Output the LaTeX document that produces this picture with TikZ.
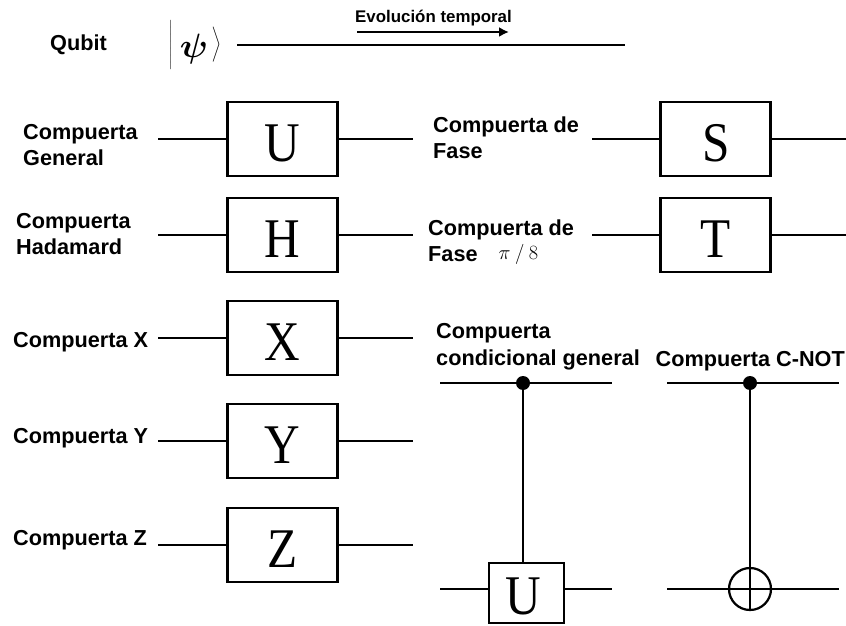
\documentclass[tikz,border=0pt]{standalone}
\usepackage{fontspec}
\usetikzlibrary{arrows.meta}
\setmainfont{Liberation Serif}
\setsansfont{Liberation Sans}
\newcommand{\gateletter}[1]{\scalebox{.88}[1]{#1}}
\tikzset{
	gatebox/.style={draw, line width=2.2pt, fill=white, minimum width=3.3cm, minimum height=2.22cm, inner sep=0pt, text height=38.4pt, text depth=0pt, font=\fontsize{47.8}{48}\selectfont},
	smallbox/.style={draw, line width=2.2pt, fill=white, minimum width=2.25cm, minimum height=1.8cm, inner sep=0pt, text height=36pt, text depth=0pt, font=\fontsize{47.8}{48}\selectfont},
	wire/.style={line width=2.2pt},
	gatelabel/.style={anchor=base west, inner sep=0pt, align=left, font=\sffamily\bfseries\fontsize{18.5}{22.2}\selectfont},
	ctrldot/.style={circle, fill=black, minimum size=0.42cm, inner sep=0pt}
}
\begin{document}
\begin{tikzpicture}[x=0.03cm, y=-0.03cm]
		\useasboundingbox (0,0) rectangle (846,626);
		%
		\node (qubit)[gatelabel] at (50,51) {Qubit};
		\node (ket)[inner sep=0pt, font=\fontsize{14.4}{15}\selectfont] at (195,45) {$\left|\rule[-16.9pt]{0pt}{41pt}\kern6pt\mbox{\raisebox{-7pt}{\scalebox{2.1}[2]{\boldmath$\psi$}}}\kern3pt\right\rangle$};
		\coordinate (lineIn) at (237,45);
		\coordinate (lineOut) at (625,45);
		\draw [line width=2.4pt](lineIn)--(lineOut);
		\node (evol)[anchor=base west, inner sep=0pt, font=\sffamily\bfseries\fontsize{14.4}{15}\selectfont] at (355,23) {Evolución temporal};
		\coordinate (evolIn) at (357,32);
		\coordinate (evolOut) at (509,32);
		\draw [-{Latex[length=0.3cm,width=0.3cm]}, line width=1.9pt](evolIn)--(evolOut);
		%
		\node (uBox)[gatebox] at (282.5,139) {\gateletter{U}};
		\node (uLabel)[gatelabel] at (23,166) {Compuerta\\General};
		\coordinate (uIn) at (158,139);
		\coordinate (uOut) at (413,139);
		\draw [wire](uIn)--(uBox.west);
		\draw [wire](uBox.east)--(uOut);
		%
		\node (hBox)[gatebox] at (282.5,235) {\gateletter{H}};
		\node (hLabel)[gatelabel] at (16,255) {Compuerta\\Hadamard};
		\coordinate (hIn) at (158,235);
		\coordinate (hOut) at (413,235);
		\draw [wire](hIn)--(hBox.west);
		\draw [wire](hBox.east)--(hOut);
		%
		\node (xBox)[gatebox] at (282.5,338) {\gateletter{X}};
		\node (xLabel)[gatelabel] at (13,347) {Compuerta X};
		\coordinate (xIn) at (158,338);
		\coordinate (xOut) at (413,338);
		\draw [wire](xIn)--(xBox.west);
		\draw [wire](xBox.east)--(xOut);
		%
		\node (yBox)[gatebox] at (282.5,441) {\gateletter{Y}};
		\node (yLabel)[gatelabel] at (13,443) {Compuerta Y};
		\coordinate (yIn) at (158,441);
		\coordinate (yOut) at (413,441);
		\draw [wire](yIn)--(yBox.west);
		\draw [wire](yBox.east)--(yOut);
		%
		\node (zBox)[gatebox] at (282.5,545) {\gateletter{Z}};
		\node (zLabel)[gatelabel] at (13,545) {Compuerta Z};
		\coordinate (zIn) at (158,545);
		\coordinate (zOut) at (413,545);
		\draw [wire](zIn)--(zBox.west);
		\draw [wire](zBox.east)--(zOut);
		%
		\node (sBox)[gatebox] at (715.7,139) {\gateletter{S}};
		\node (sLabel)[gatelabel] at (433,159) {Compuerta de\\Fase};
		\coordinate (sIn) at (592,139);
		\coordinate (sOut) at (846,139);
		\draw [wire](sIn)--(sBox.west);
		\draw [wire](sBox.east)--(sOut);
		%
		\node (tBox)[gatebox] at (715.7,235) {\gateletter{T}};
		\node (tLabel)[gatelabel] at (428,262) {Compuerta de\\Fase};
		\node (tAngle)[inner sep=0pt, font=\fontsize{18}{18}\selectfont] at (518.5,254) {$\pi\:/\:8$};
		\coordinate (tIn) at (592,235);
		\coordinate (tOut) at (846,235);
		\draw [wire](tIn)--(tBox.west);
		\draw [wire](tBox.east)--(tOut);
		%
		\node (condLabel)[gatelabel] at (436,365) {Compuerta\\condicional general};
		\node (condBox)[smallbox] at (526.5,593) {\kern-5pt\gateletter{U}};
		\node (condDot)[ctrldot] at (523,383) {};
		\coordinate (condTopIn) at (440,383);
		\coordinate (condTopOut) at (612,383);
		\coordinate (condIn) at (440,589);
		\coordinate (condOut) at (612,589);
		\draw [wire](condTopIn)--(condTopOut);
		\draw [wire](condIn)--(condIn-|condBox.west);
		\draw [wire](condOut-|condBox.east)--(condOut);
		\draw [wire](condDot)--(condDot|-condBox.north);
		%
		\node (cnotLabel)[gatelabel] at (655.5,366) {Compuerta C-NOT};
		\node (cnotDot)[ctrldot] at (750,383) {};
		\node (cnotTarget)[circle, draw, line width=1.9pt, minimum size=1.26cm, inner sep=0pt] at (750,589) {};
		\coordinate (cnotTopIn) at (667,383);
		\coordinate (cnotTopOut) at (839,383);
		\coordinate (cnotIn) at (667,589);
		\coordinate (cnotOut) at (839,589);
		\draw [wire](cnotTopIn)--(cnotTopOut);
		\draw [wire](cnotIn)--(cnotOut);
		\draw [wire](cnotDot)--(cnotTarget.south);
	\end{tikzpicture}
\end{document}
